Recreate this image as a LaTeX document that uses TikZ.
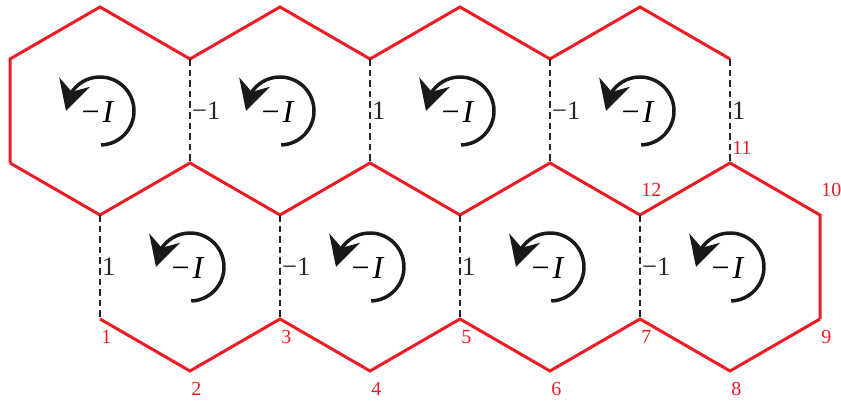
\documentclass[tikz,border=0pt]{standalone}
\usepackage{fontspec}
\setmainfont{Liberation Serif}
\usetikzlibrary{arrows.meta, bending, positioning}
\definecolor{hexred}{RGB}{237,28,36}
\tikzset{
  redline/.style={draw=hexred,line width=1.5pt,line join=miter},
  cut/.style={draw=black!85,line width=0.8pt,dash pattern=on 3.3pt off 2pt},
  turn/.style={draw=black!90,line width=1.75pt,-{Stealth[length=15pt,width=16pt,inset=5pt,flex]}},
  op/.style={inner sep=0pt,font=\fontsize{16}{18}\selectfont},
  sign/.style={anchor=west,inner sep=0.6pt,font=\fontsize{13.3}{15}\selectfont,text=black!85},
  vnum/.style={inner sep=0pt,text=hexred,font=\fontsize{10}{11}\selectfont}
}

\begin{document}
\begin{tikzpicture}[x=0.5pt,y=0.5pt]
\useasboundingbox (0,0) rectangle (841,401);
% zigzag corners
\foreach \i in {0,...,8} {
  \pgfmathsetmacro{\ty}{isodd(\i) ? 394 : 342}
  \coordinate (t\i) at ({10+90*\i},\ty);
  \pgfmathsetmacro{\dy}{isodd(\i) ? 30 : 82}
  \coordinate (d\i) at ({100+90*\i},\dy);
}
\foreach \i in {0,...,9} {
  \pgfmathsetmacro{\my}{isodd(\i) ? 186 : 238}
  \coordinate (m\i) at ({10+90*\i},\my);
}
% hexagon centres
\foreach \k in {0,...,3} {
  \coordinate (up\k) at ({100+180*\k},290);
  \coordinate (lo\k) at ({190+180*\k},134);
}

\draw[redline] (m0) -- (t0) \foreach \i in {1,...,8} { -- (t\i) };
\draw[redline] (m0) \foreach \i in {1,...,9} { -- (m\i) } -- (d8);
\draw[redline] (d0) \foreach \i in {1,...,8} { -- (d\i) };

\draw[cut] (t2) -- node[sign] (s1) {−1} (m2);
\draw[cut] (t4) -- node[sign] (s2) {1} (m4);
\draw[cut] (t6) -- node[sign] (s3) {−1} (m6);
\draw[cut] (t8) -- node[sign] (s4) {1} (m8);
\draw[cut] (m1) -- node[sign] (s5) {1} (d0);
\draw[cut] (m3) -- node[sign] (s6) {−1} (d2);
\draw[cut] (m5) -- node[sign] (s7) {1} (d4);
\draw[cut] (m7) -- node[sign] (s8) {−1} (d6);

\foreach \c in {up0,up1,up2,up3,lo0,lo1,lo2,lo3} {
  \draw[turn] ([shift={(-88:17pt)}]\c) arc[start angle=-88,end angle=180,radius=17pt];
  \node[op] (op-\c) at ([shift={(-2,-1)}]\c) {−\kern1.5pt\textit{I}};
}

\foreach \i [evaluate=\i as \n using int(\i+1)] in {0,...,8}
  \node[vnum, anchor=north west] (v\n) at ([shift={(1,-11)}]d\i) {\n};
\node[vnum, anchor=south west] (v10) at ([shift={(1,18)}]m9) {10};
\node[vnum, anchor=south west] (v11) at ([shift={(2,8)}]m8) {11};
\node[vnum, anchor=south west] (v12) at ([shift={(1,18)}]m7) {12};
\end{tikzpicture}
\end{document}
